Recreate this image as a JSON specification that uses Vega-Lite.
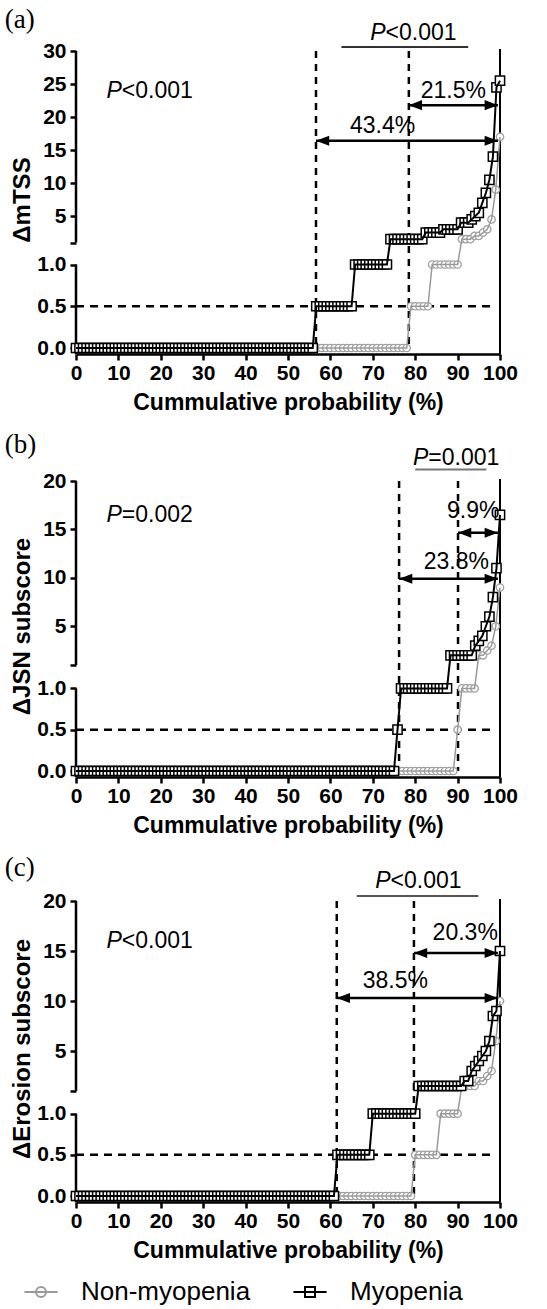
{
"$schema":"https://vega.github.io/schema/vega-lite/v6.json",
"padding":{"left":4,"top":6,"right":0,"bottom":0},
"spacing":16,
"config":{"view":{"stroke":null},"font":"Liberation Sans",
"axis":{"domainColor":"black","tickColor":"black","labelColor":"black","titleColor":"black","grid":false,"labelFont":"Liberation Sans","titleFont":"Liberation Sans","labelFontWeight":"bold","titleFontWeight":"bold","labelFontSize":21,"titleFontSize":24,"tickWidth":2.5,"domainWidth":2.5,"tickSize":6,"labelOverlap":false,"labelFlush":false,"tickCount":30},
"axisX":{"offset":6,"labelPadding":2,"titlePadding":8,"titleFontSize":23},
"axisY":{"labelPadding":4,"titlePadding":2,"domain":false},
"text":{"font":"Liberation Sans","color":"black","fontSize":23},
"title":{"font":"Liberation Serif","fontSize":27,"fontWeight":"normal","anchor":"start","frame":"bounds","dx":-6,"offset":-12,"color":"black"}},
"datasets":{
"one":[{}],
"groups":[{"g":"Non-myopenia"},{"g":"Myopenia"}],
"myo":[
{"x":0,"a":0,"b":0,"c":0},{"x":0.83,"a":0,"b":0,"c":0},{"x":1.67,"a":0,"b":0,"c":0},{"x":2.5,"a":0,"b":0,"c":0},{"x":3.33,"a":0,"b":0,"c":0},{"x":4.17,"a":0,"b":0,"c":0},
{"x":5,"a":0,"b":0,"c":0},{"x":5.83,"a":0,"b":0,"c":0},{"x":6.67,"a":0,"b":0,"c":0},{"x":7.5,"a":0,"b":0,"c":0},{"x":8.33,"a":0,"b":0,"c":0},{"x":9.17,"a":0,"b":0,"c":0},
{"x":10,"a":0,"b":0,"c":0},{"x":10.83,"a":0,"b":0,"c":0},{"x":11.67,"a":0,"b":0,"c":0},{"x":12.5,"a":0,"b":0,"c":0},{"x":13.33,"a":0,"b":0,"c":0},{"x":14.17,"a":0,"b":0,"c":0},
{"x":15,"a":0,"b":0,"c":0},{"x":15.83,"a":0,"b":0,"c":0},{"x":16.67,"a":0,"b":0,"c":0},{"x":17.5,"a":0,"b":0,"c":0},{"x":18.33,"a":0,"b":0,"c":0},{"x":19.17,"a":0,"b":0,"c":0},
{"x":20,"a":0,"b":0,"c":0},{"x":20.83,"a":0,"b":0,"c":0},{"x":21.67,"a":0,"b":0,"c":0},{"x":22.5,"a":0,"b":0,"c":0},{"x":23.33,"a":0,"b":0,"c":0},{"x":24.17,"a":0,"b":0,"c":0},
{"x":25,"a":0,"b":0,"c":0},{"x":25.83,"a":0,"b":0,"c":0},{"x":26.67,"a":0,"b":0,"c":0},{"x":27.5,"a":0,"b":0,"c":0},{"x":28.33,"a":0,"b":0,"c":0},{"x":29.17,"a":0,"b":0,"c":0},
{"x":30,"a":0,"b":0,"c":0},{"x":30.83,"a":0,"b":0,"c":0},{"x":31.67,"a":0,"b":0,"c":0},{"x":32.5,"a":0,"b":0,"c":0},{"x":33.33,"a":0,"b":0,"c":0},{"x":34.17,"a":0,"b":0,"c":0},
{"x":35,"a":0,"b":0,"c":0},{"x":35.83,"a":0,"b":0,"c":0},{"x":36.67,"a":0,"b":0,"c":0},{"x":37.5,"a":0,"b":0,"c":0},{"x":38.33,"a":0,"b":0,"c":0},{"x":39.17,"a":0,"b":0,"c":0},
{"x":40,"a":0,"b":0,"c":0},{"x":40.83,"a":0,"b":0,"c":0},{"x":41.67,"a":0,"b":0,"c":0},{"x":42.5,"a":0,"b":0,"c":0},{"x":43.33,"a":0,"b":0,"c":0},{"x":44.17,"a":0,"b":0,"c":0},
{"x":45,"a":0,"b":0,"c":0},{"x":45.83,"a":0,"b":0,"c":0},{"x":46.67,"a":0,"b":0,"c":0},{"x":47.5,"a":0,"b":0,"c":0},{"x":48.33,"a":0,"b":0,"c":0},{"x":49.17,"a":0,"b":0,"c":0},
{"x":50,"a":0,"b":0,"c":0},{"x":50.83,"a":0,"b":0,"c":0},{"x":51.67,"a":0,"b":0,"c":0},{"x":52.5,"a":0,"b":0,"c":0},{"x":53.33,"a":0,"b":0,"c":0},{"x":54.17,"a":0,"b":0,"c":0},
{"x":55,"a":0,"b":0,"c":0},{"x":55.83,"a":0,"b":0,"c":0},
{"x":56.67,"a":0.5,"b":0,"c":0},{"x":57.5,"a":0.5,"b":0,"c":0},{"x":58.33,"a":0.5,"b":0,"c":0},{"x":59.17,"a":0.5,"b":0,"c":0},{"x":60,"a":0.5,"b":0,"c":0},{"x":60.83,"a":0.5,"b":0,"c":0},
{"x":61.67,"a":0.5,"b":0,"c":0.5},{"x":62.5,"a":0.5,"b":0,"c":0.5},{"x":63.33,"a":0.5,"b":0,"c":0.5},{"x":64.17,"a":0.5,"b":0,"c":0.5},{"x":65,"a":0.5,"b":0,"c":0.5},
{"x":65.83,"a":1,"b":0,"c":0.5},{"x":66.67,"a":1,"b":0,"c":0.5},{"x":67.5,"a":1,"b":0,"c":0.5},{"x":68.33,"a":1,"b":0,"c":0.5},{"x":69.17,"a":1,"b":0,"c":0.5},
{"x":70,"a":1,"b":0,"c":1},{"x":70.83,"a":1,"b":0,"c":1},{"x":71.67,"a":1,"b":0,"c":1},{"x":72.5,"a":1,"b":0,"c":1},{"x":73.33,"a":1,"b":0,"c":1},
{"x":74.17,"a":1.5,"b":0,"c":1},{"x":75,"a":1.5,"b":0,"c":1},
{"x":75.83,"a":1.5,"b":0.5,"c":1},
{"x":76.67,"a":1.5,"b":1,"c":1},{"x":77.5,"a":1.5,"b":1,"c":1},{"x":78.33,"a":1.5,"b":1,"c":1},{"x":79.17,"a":1.5,"b":1,"c":1},{"x":80,"a":1.5,"b":1,"c":1},
{"x":80.83,"a":1.5,"b":1,"c":1.5},{"x":81.67,"a":1.5,"b":1,"c":1.5},
{"x":82.5,"a":2.5,"b":1,"c":1.5},{"x":83.33,"a":2.5,"b":1,"c":1.5},{"x":84.17,"a":2.5,"b":1,"c":1.5},{"x":85,"a":2.5,"b":1,"c":1.5},{"x":85.83,"a":2.5,"b":1,"c":1.5},
{"x":86.67,"a":3,"b":1,"c":1.5},{"x":87.5,"a":3,"b":1,"c":1.5},
{"x":88.33,"a":3,"b":2,"c":1.5},{"x":89.17,"a":3,"b":2,"c":1.5},{"x":90,"a":3,"b":2,"c":1.5},
{"x":90.83,"a":4,"b":2,"c":1.5},
{"x":91.67,"a":4,"b":2,"c":2},{"x":92.5,"a":4,"b":2,"c":2},
{"x":93.33,"a":4.5,"b":2,"c":3},
{"x":94.17,"a":5,"b":3,"c":3.5},
{"x":95,"a":5.5,"b":3.5,"c":4},
{"x":95.83,"a":7,"b":4,"c":4.5},
{"x":96.67,"a":8.5,"b":5,"c":5},
{"x":97.5,"a":10.5,"b":6,"c":6},
{"x":98.33,"a":14,"b":8,"c":8.5},
{"x":99.17,"a":24.5,"b":11,"c":9},
{"x":100,"a":25.5,"b":16.5,"c":15}
],
"non":[
{"x":0,"a":0,"b":0,"c":0},{"x":1,"a":0,"b":0,"c":0},{"x":2,"a":0,"b":0,"c":0},{"x":3,"a":0,"b":0,"c":0},{"x":4,"a":0,"b":0,"c":0},{"x":5,"a":0,"b":0,"c":0},{"x":6,"a":0,"b":0,"c":0},{"x":7,"a":0,"b":0,"c":0},{"x":8,"a":0,"b":0,"c":0},{"x":9,"a":0,"b":0,"c":0},
{"x":10,"a":0,"b":0,"c":0},{"x":11,"a":0,"b":0,"c":0},{"x":12,"a":0,"b":0,"c":0},{"x":13,"a":0,"b":0,"c":0},{"x":14,"a":0,"b":0,"c":0},{"x":15,"a":0,"b":0,"c":0},{"x":16,"a":0,"b":0,"c":0},{"x":17,"a":0,"b":0,"c":0},{"x":18,"a":0,"b":0,"c":0},{"x":19,"a":0,"b":0,"c":0},
{"x":20,"a":0,"b":0,"c":0},{"x":21,"a":0,"b":0,"c":0},{"x":22,"a":0,"b":0,"c":0},{"x":23,"a":0,"b":0,"c":0},{"x":24,"a":0,"b":0,"c":0},{"x":25,"a":0,"b":0,"c":0},{"x":26,"a":0,"b":0,"c":0},{"x":27,"a":0,"b":0,"c":0},{"x":28,"a":0,"b":0,"c":0},{"x":29,"a":0,"b":0,"c":0},
{"x":30,"a":0,"b":0,"c":0},{"x":31,"a":0,"b":0,"c":0},{"x":32,"a":0,"b":0,"c":0},{"x":33,"a":0,"b":0,"c":0},{"x":34,"a":0,"b":0,"c":0},{"x":35,"a":0,"b":0,"c":0},{"x":36,"a":0,"b":0,"c":0},{"x":37,"a":0,"b":0,"c":0},{"x":38,"a":0,"b":0,"c":0},{"x":39,"a":0,"b":0,"c":0},
{"x":40,"a":0,"b":0,"c":0},{"x":41,"a":0,"b":0,"c":0},{"x":42,"a":0,"b":0,"c":0},{"x":43,"a":0,"b":0,"c":0},{"x":44,"a":0,"b":0,"c":0},{"x":45,"a":0,"b":0,"c":0},{"x":46,"a":0,"b":0,"c":0},{"x":47,"a":0,"b":0,"c":0},{"x":48,"a":0,"b":0,"c":0},{"x":49,"a":0,"b":0,"c":0},
{"x":50,"a":0,"b":0,"c":0},{"x":51,"a":0,"b":0,"c":0},{"x":52,"a":0,"b":0,"c":0},{"x":53,"a":0,"b":0,"c":0},{"x":54,"a":0,"b":0,"c":0},{"x":55,"a":0,"b":0,"c":0},{"x":56,"a":0,"b":0,"c":0},{"x":57,"a":0,"b":0,"c":0},{"x":58,"a":0,"b":0,"c":0},{"x":59,"a":0,"b":0,"c":0},
{"x":60,"a":0,"b":0,"c":0},{"x":61,"a":0,"b":0,"c":0},{"x":62,"a":0,"b":0,"c":0},{"x":63,"a":0,"b":0,"c":0},{"x":64,"a":0,"b":0,"c":0},{"x":65,"a":0,"b":0,"c":0},{"x":66,"a":0,"b":0,"c":0},{"x":67,"a":0,"b":0,"c":0},{"x":68,"a":0,"b":0,"c":0},{"x":69,"a":0,"b":0,"c":0},
{"x":70,"a":0,"b":0,"c":0},{"x":71,"a":0,"b":0,"c":0},{"x":72,"a":0,"b":0,"c":0},{"x":73,"a":0,"b":0,"c":0},{"x":74,"a":0,"b":0,"c":0},{"x":75,"a":0,"b":0,"c":0},{"x":76,"a":0,"b":0,"c":0},{"x":77,"a":0,"b":0,"c":0},{"x":78,"a":0,"b":0,"c":0},
{"x":79,"a":0.5,"b":0,"c":0},
{"x":80,"a":0.5,"b":0,"c":0.5},{"x":81,"a":0.5,"b":0,"c":0.5},{"x":82,"a":0.5,"b":0,"c":0.5},{"x":83,"a":0.5,"b":0,"c":0.5},
{"x":84,"a":1,"b":0,"c":0.5},{"x":85,"a":1,"b":0,"c":0.5},
{"x":86,"a":1,"b":0,"c":1},{"x":87,"a":1,"b":0,"c":1},{"x":88,"a":1,"b":0,"c":1},{"x":89,"a":1,"b":0,"c":1},
{"x":90,"a":1,"b":0.5,"c":1},
{"x":91,"a":1.5,"b":1,"c":1.5},{"x":92,"a":1.5,"b":1,"c":1.5},{"x":93,"a":1.5,"b":1,"c":1.5},
{"x":94,"a":2,"b":1,"c":1.5},
{"x":95,"a":2,"b":2,"c":2},
{"x":96,"a":2.5,"b":2,"c":2},
{"x":97,"a":3,"b":2.5,"c":2.5},
{"x":98,"a":4.5,"b":3,"c":3},
{"x":99,"a":9,"b":5,"c":6},
{"x":100,"a":17,"b":9,"c":10}
]},
"vconcat":[
{"title":{"text":"(a)"},"width":424,"height":297,"data":{"name":"one"},
"layer":[
{"mark":{"type":"rule","strokeWidth":2.5,"color":"black"},"encoding":{"x":{"datum":0,"type":"quantitative"},"y":{"datum":-0.075,"type":"quantitative"},"y2":{"datum":1}}},
{"mark":{"type":"rule","strokeWidth":2.5,"color":"black"},"encoding":{"x":{"datum":0,"type":"quantitative"},"y":{"datum":1.0001,"type":"quantitative"},"y2":{"datum":30}}},
{"mark":{"type":"rule","strokeWidth":2.5,"color":"black","strokeDash":[7,6]},"encoding":{"x":{"datum":56.6,"type":"quantitative"}}},
{"mark":{"type":"rule","strokeWidth":2.5,"color":"black","strokeDash":[7,6]},"encoding":{"x":{"datum":78.5,"type":"quantitative"}}},
{"mark":{"type":"rule","strokeWidth":2.5,"color":"black","strokeDash":[8,6]},"encoding":{"x":{"datum":0,"type":"quantitative"},"x2":{"datum":99},"y":{"datum":0.5,"type":"quantitative"}}},
{"mark":{"type":"rule","strokeWidth":2,"color":"black"},"encoding":{"x":{"datum":100,"type":"quantitative"},"y":{"datum":-0.075,"type":"quantitative"},"y2":{"datum":30.3}}},
{"data":{"name":"non"},"mark":{"type":"point","shape":"circle","filled":true,"fill":"white","stroke":"#a0a0a0","strokeWidth":1.3,"size":55,"opacity":1},
"encoding":{"x":{"field":"x","type":"quantitative","scale":{"domain":[0,100],"nice":false,"zero":false},"axis":{"title":"Cummulative probability (%)","values":[0,10,20,30,40,50,60,70,80,90,100],"labelOverlap":false,"tickCount":30}},
"y":{"field":"a","type":"quantitative","scale":{"domain":[0,1,1.0001,30],"range":[297,213.5,191.5,0],"nice":false,"zero":false},"axis":{"title":"ΔmTSS","values":[0,0.5,1,1.0001,5,10,15,20,25,30],"tickCount":30,"labelOverlap":false,"labelBound":false,"labelExpr":"datum.value == 1.0001 ? '' : (datum.value <= 1 ? format(datum.value, '.1f') : format(datum.value, 'd'))"}}}},
{"data":{"name":"non"},"mark":{"type":"line","color":"#9a9a9a","strokeWidth":1.5},"encoding":{"x":{"field":"x","type":"quantitative"},"y":{"field":"a","type":"quantitative"}}},
{"data":{"name":"myo"},"mark":{"type":"point","shape":"square","filled":true,"fill":"white","stroke":"black","strokeWidth":1.5,"size":85,"opacity":1},"encoding":{"x":{"field":"x","type":"quantitative"},"y":{"field":"a","type":"quantitative"}}},
{"data":{"name":"myo"},"mark":{"type":"line","color":"black","strokeWidth":2},"encoding":{"x":{"field":"x","type":"quantitative"},"y":{"field":"a","type":"quantitative"}}},
{"mark":{"type":"rule","strokeWidth":2.5,"color":"black"},"encoding":{"x":{"datum":56.6,"type":"quantitative"},"x2":{"datum":99.5},"y":{"datum":16.4,"type":"quantitative"}}},
{"mark":{"type":"point","shape":"M0,0L1,-0.38L1,0.38Z","filled":true,"color":"black","size":700,"opacity":1,"strokeWidth":0},"encoding":{"x":{"datum":56.6,"type":"quantitative"},"y":{"datum":16.4,"type":"quantitative"}}},
{"mark":{"type":"point","shape":"M0,0L-1,-0.38L-1,0.38Z","filled":true,"color":"black","size":700,"opacity":1,"strokeWidth":0},"encoding":{"x":{"datum":99.5,"type":"quantitative"},"y":{"datum":16.4,"type":"quantitative"}}},
{"mark":{"type":"rule","strokeWidth":2.5,"color":"black"},"encoding":{"x":{"datum":78.5,"type":"quantitative"},"x2":{"datum":99.5},"y":{"datum":21.8,"type":"quantitative"}}},
{"mark":{"type":"point","shape":"M0,0L1,-0.38L1,0.38Z","filled":true,"color":"black","size":700,"opacity":1,"strokeWidth":0},"encoding":{"x":{"datum":78.5,"type":"quantitative"},"y":{"datum":21.8,"type":"quantitative"}}},
{"mark":{"type":"point","shape":"M0,0L-1,-0.38L-1,0.38Z","filled":true,"color":"black","size":700,"opacity":1,"strokeWidth":0},"encoding":{"x":{"datum":99.5,"type":"quantitative"},"y":{"datum":21.8,"type":"quantitative"}}},
{"mark":{"type":"text","align":"center","baseline":"middle"},"encoding":{"x":{"datum":72.3,"type":"quantitative"},"y":{"datum":18.65,"type":"quantitative"},"text":{"value":"43.4%"}}},
{"mark":{"type":"text","align":"center","baseline":"middle"},"encoding":{"x":{"datum":89,"type":"quantitative"},"y":{"datum":23.9,"type":"quantitative"},"text":{"value":"21.5%"}}},
{"mark":{"type":"text","align":"right","baseline":"middle","fontStyle":"italic"},"encoding":{"x":{"datum":73,"type":"quantitative"},"y":{"datum":32.7,"type":"quantitative"},"text":{"value":"P"}}},
{"mark":{"type":"text","align":"left","baseline":"middle"},"encoding":{"x":{"datum":73,"type":"quantitative"},"y":{"datum":32.7,"type":"quantitative"},"text":{"value":"<0.001"}}},
{"mark":{"type":"rule","strokeWidth":2,"color":"#333333"},"encoding":{"x":{"datum":62.6,"type":"quantitative"},"x2":{"datum":92.5},"y":{"datum":30.6,"type":"quantitative"}}},
{"mark":{"type":"text","align":"right","baseline":"middle","fontStyle":"italic"},"encoding":{"x":{"datum":10.8,"type":"quantitative"},"y":{"datum":23.9,"type":"quantitative"},"text":{"value":"P"}}},
{"mark":{"type":"text","align":"left","baseline":"middle"},"encoding":{"x":{"datum":10.8,"type":"quantitative"},"y":{"datum":23.9,"type":"quantitative"},"text":{"value":"<0.001"}}}
]},
{"title":{"text":"(b)"},"width":424,"height":290,"data":{"name":"one"},
"layer":[
{"mark":{"type":"rule","strokeWidth":2.5,"color":"black"},"encoding":{"x":{"datum":0,"type":"quantitative"},"y":{"datum":-0.075,"type":"quantitative"},"y2":{"datum":1}}},
{"mark":{"type":"rule","strokeWidth":2.5,"color":"black"},"encoding":{"x":{"datum":0,"type":"quantitative"},"y":{"datum":1.0001,"type":"quantitative"},"y2":{"datum":20}}},
{"mark":{"type":"rule","strokeWidth":2.5,"color":"black","strokeDash":[7,6]},"encoding":{"x":{"datum":76.2,"type":"quantitative"}}},
{"mark":{"type":"rule","strokeWidth":2.5,"color":"black","strokeDash":[7,6]},"encoding":{"x":{"datum":90.1,"type":"quantitative"}}},
{"mark":{"type":"rule","strokeWidth":2.5,"color":"black","strokeDash":[8,6]},"encoding":{"x":{"datum":0,"type":"quantitative"},"x2":{"datum":99},"y":{"datum":0.5,"type":"quantitative"}}},
{"mark":{"type":"rule","strokeWidth":2,"color":"black"},"encoding":{"x":{"datum":100,"type":"quantitative"},"y":{"datum":-0.075,"type":"quantitative"},"y2":{"datum":20.2}}},
{"data":{"name":"non"},"mark":{"type":"point","shape":"circle","filled":true,"fill":"white","stroke":"#a0a0a0","strokeWidth":1.3,"size":55,"opacity":1},
"encoding":{"x":{"field":"x","type":"quantitative","scale":{"domain":[0,100],"nice":false,"zero":false},"axis":{"title":"Cummulative probability (%)","values":[0,10,20,30,40,50,60,70,80,90,100],"labelOverlap":false,"tickCount":30}},
"y":{"field":"b","type":"quantitative","scale":{"domain":[0,1,1.0001,20],"range":[290,207.4,184,0],"nice":false,"zero":false},"axis":{"title":"ΔJSN subscore","values":[0,0.5,1,1.0001,5,10,15,20],"tickCount":30,"labelOverlap":false,"labelBound":false,"labelExpr":"datum.value == 1.0001 ? '' : (datum.value <= 1 ? format(datum.value, '.1f') : format(datum.value, 'd'))"}}}},
{"data":{"name":"non"},"mark":{"type":"line","color":"#9a9a9a","strokeWidth":1.5},"encoding":{"x":{"field":"x","type":"quantitative"},"y":{"field":"b","type":"quantitative"}}},
{"data":{"name":"myo"},"mark":{"type":"point","shape":"square","filled":true,"fill":"white","stroke":"black","strokeWidth":1.5,"size":85,"opacity":1},"encoding":{"x":{"field":"x","type":"quantitative"},"y":{"field":"b","type":"quantitative"}}},
{"data":{"name":"myo"},"mark":{"type":"line","color":"black","strokeWidth":2},"encoding":{"x":{"field":"x","type":"quantitative"},"y":{"field":"b","type":"quantitative"}}},
{"mark":{"type":"rule","strokeWidth":2.5,"color":"black"},"encoding":{"x":{"datum":76.2,"type":"quantitative"},"x2":{"datum":99.5},"y":{"datum":9.9,"type":"quantitative"}}},
{"mark":{"type":"point","shape":"M0,0L1,-0.38L1,0.38Z","filled":true,"color":"black","size":700,"opacity":1,"strokeWidth":0},"encoding":{"x":{"datum":76.2,"type":"quantitative"},"y":{"datum":9.9,"type":"quantitative"}}},
{"mark":{"type":"point","shape":"M0,0L-1,-0.38L-1,0.38Z","filled":true,"color":"black","size":700,"opacity":1,"strokeWidth":0},"encoding":{"x":{"datum":99.5,"type":"quantitative"},"y":{"datum":9.9,"type":"quantitative"}}},
{"mark":{"type":"rule","strokeWidth":2.5,"color":"black"},"encoding":{"x":{"datum":90.1,"type":"quantitative"},"x2":{"datum":99.5},"y":{"datum":14.66,"type":"quantitative"}}},
{"mark":{"type":"point","shape":"M0,0L1,-0.38L1,0.38Z","filled":true,"color":"black","size":700,"opacity":1,"strokeWidth":0},"encoding":{"x":{"datum":90.1,"type":"quantitative"},"y":{"datum":14.66,"type":"quantitative"}}},
{"mark":{"type":"point","shape":"M0,0L-1,-0.38L-1,0.38Z","filled":true,"color":"black","size":700,"opacity":1,"strokeWidth":0},"encoding":{"x":{"datum":99.5,"type":"quantitative"},"y":{"datum":14.66,"type":"quantitative"}}},
{"mark":{"type":"text","align":"center","baseline":"middle"},"encoding":{"x":{"datum":89.7,"type":"quantitative"},"y":{"datum":11.6,"type":"quantitative"},"text":{"value":"23.8%"}}},
{"mark":{"type":"text","align":"center","baseline":"middle"},"encoding":{"x":{"datum":93.7,"type":"quantitative"},"y":{"datum":16.9,"type":"quantitative"},"text":{"value":"9.9%"}}},
{"mark":{"type":"text","align":"right","baseline":"middle","fontStyle":"italic"},"encoding":{"x":{"datum":83.1,"type":"quantitative"},"y":{"datum":22.4,"type":"quantitative"},"text":{"value":"P"}}},
{"mark":{"type":"text","align":"left","baseline":"middle"},"encoding":{"x":{"datum":83.1,"type":"quantitative"},"y":{"datum":22.4,"type":"quantitative"},"text":{"value":"=0.001"}}},
{"mark":{"type":"rule","strokeWidth":2,"color":"#777777"},"encoding":{"x":{"datum":80,"type":"quantitative"},"x2":{"datum":96.8},"y":{"datum":21.2,"type":"quantitative"}}},
{"mark":{"type":"text","align":"right","baseline":"middle","fontStyle":"italic"},"encoding":{"x":{"datum":10.8,"type":"quantitative"},"y":{"datum":16.5,"type":"quantitative"},"text":{"value":"P"}}},
{"mark":{"type":"text","align":"left","baseline":"middle"},"encoding":{"x":{"datum":10.8,"type":"quantitative"},"y":{"datum":16.5,"type":"quantitative"},"text":{"value":"=0.002"}}}
]},
{"title":{"text":"(c)"},"width":424,"height":295,"data":{"name":"one"},
"layer":[
{"mark":{"type":"rule","strokeWidth":2.5,"color":"black"},"encoding":{"x":{"datum":0,"type":"quantitative"},"y":{"datum":-0.075,"type":"quantitative"},"y2":{"datum":1}}},
{"mark":{"type":"rule","strokeWidth":2.5,"color":"black"},"encoding":{"x":{"datum":0,"type":"quantitative"},"y":{"datum":1.0001,"type":"quantitative"},"y2":{"datum":20}}},
{"mark":{"type":"rule","strokeWidth":2.5,"color":"black","strokeDash":[7,6]},"encoding":{"x":{"datum":61.5,"type":"quantitative"}}},
{"mark":{"type":"rule","strokeWidth":2.5,"color":"black","strokeDash":[7,6]},"encoding":{"x":{"datum":79.7,"type":"quantitative"}}},
{"mark":{"type":"rule","strokeWidth":2.5,"color":"black","strokeDash":[8,6]},"encoding":{"x":{"datum":0,"type":"quantitative"},"x2":{"datum":99},"y":{"datum":0.5,"type":"quantitative"}}},
{"mark":{"type":"rule","strokeWidth":2,"color":"black"},"encoding":{"x":{"datum":100,"type":"quantitative"},"y":{"datum":-0.075,"type":"quantitative"},"y2":{"datum":20.2}}},
{"data":{"name":"non"},"mark":{"type":"point","shape":"circle","filled":true,"fill":"white","stroke":"#a0a0a0","strokeWidth":1.3,"size":55,"opacity":1},
"encoding":{"x":{"field":"x","type":"quantitative","scale":{"domain":[0,100],"nice":false,"zero":false},"axis":{"title":"Cummulative probability (%)","values":[0,10,20,30,40,50,60,70,80,90,100],"labelOverlap":false,"tickCount":30}},
"y":{"field":"c","type":"quantitative","scale":{"domain":[0,1,1.0001,20],"range":[295,212.7,190,0],"nice":false,"zero":false},"axis":{"title":"ΔErosion subscore","values":[0,0.5,1,1.0001,5,10,15,20],"tickCount":30,"labelOverlap":false,"labelBound":false,"labelExpr":"datum.value == 1.0001 ? '' : (datum.value <= 1 ? format(datum.value, '.1f') : format(datum.value, 'd'))"}}}},
{"data":{"name":"non"},"mark":{"type":"line","color":"#9a9a9a","strokeWidth":1.5},"encoding":{"x":{"field":"x","type":"quantitative"},"y":{"field":"c","type":"quantitative"}}},
{"data":{"name":"myo"},"mark":{"type":"point","shape":"square","filled":true,"fill":"white","stroke":"black","strokeWidth":1.5,"size":85,"opacity":1},"encoding":{"x":{"field":"x","type":"quantitative"},"y":{"field":"c","type":"quantitative"}}},
{"data":{"name":"myo"},"mark":{"type":"line","color":"black","strokeWidth":2},"encoding":{"x":{"field":"x","type":"quantitative"},"y":{"field":"c","type":"quantitative"}}},
{"mark":{"type":"rule","strokeWidth":2.5,"color":"black"},"encoding":{"x":{"datum":61.5,"type":"quantitative"},"x2":{"datum":99.5},"y":{"datum":10.3,"type":"quantitative"}}},
{"mark":{"type":"point","shape":"M0,0L1,-0.38L1,0.38Z","filled":true,"color":"black","size":700,"opacity":1,"strokeWidth":0},"encoding":{"x":{"datum":61.5,"type":"quantitative"},"y":{"datum":10.3,"type":"quantitative"}}},
{"mark":{"type":"point","shape":"M0,0L-1,-0.38L-1,0.38Z","filled":true,"color":"black","size":700,"opacity":1,"strokeWidth":0},"encoding":{"x":{"datum":99.5,"type":"quantitative"},"y":{"datum":10.3,"type":"quantitative"}}},
{"mark":{"type":"rule","strokeWidth":2.5,"color":"black"},"encoding":{"x":{"datum":79.7,"type":"quantitative"},"x2":{"datum":99.5},"y":{"datum":14.8,"type":"quantitative"}}},
{"mark":{"type":"point","shape":"M0,0L1,-0.38L1,0.38Z","filled":true,"color":"black","size":700,"opacity":1,"strokeWidth":0},"encoding":{"x":{"datum":79.7,"type":"quantitative"},"y":{"datum":14.8,"type":"quantitative"}}},
{"mark":{"type":"point","shape":"M0,0L-1,-0.38L-1,0.38Z","filled":true,"color":"black","size":700,"opacity":1,"strokeWidth":0},"encoding":{"x":{"datum":99.5,"type":"quantitative"},"y":{"datum":14.8,"type":"quantitative"}}},
{"mark":{"type":"text","align":"center","baseline":"middle"},"encoding":{"x":{"datum":75.3,"type":"quantitative"},"y":{"datum":12.0,"type":"quantitative"},"text":{"value":"38.5%"}}},
{"mark":{"type":"text","align":"center","baseline":"middle"},"encoding":{"x":{"datum":91.8,"type":"quantitative"},"y":{"datum":16.8,"type":"quantitative"},"text":{"value":"20.3%"}}},
{"mark":{"type":"text","align":"right","baseline":"middle","fontStyle":"italic"},"encoding":{"x":{"datum":74.2,"type":"quantitative"},"y":{"datum":22.0,"type":"quantitative"},"text":{"value":"P"}}},
{"mark":{"type":"text","align":"left","baseline":"middle"},"encoding":{"x":{"datum":74.2,"type":"quantitative"},"y":{"datum":22.0,"type":"quantitative"},"text":{"value":"<0.001"}}},
{"mark":{"type":"rule","strokeWidth":2,"color":"#555555"},"encoding":{"x":{"datum":66.2,"type":"quantitative"},"x2":{"datum":94.9},"y":{"datum":20.5,"type":"quantitative"}}},
{"mark":{"type":"text","align":"right","baseline":"middle","fontStyle":"italic"},"encoding":{"x":{"datum":10.8,"type":"quantitative"},"y":{"datum":16.0,"type":"quantitative"},"text":{"value":"P"}}},
{"mark":{"type":"text","align":"left","baseline":"middle"},"encoding":{"x":{"datum":10.8,"type":"quantitative"},"y":{"datum":16.0,"type":"quantitative"},"text":{"value":"<0.001"}}},
{"data":{"name":"groups"},"mark":{"type":"point","filled":false,"opacity":0},
"encoding":{"shape":{"field":"g","type":"nominal","scale":{"domain":["Non-myopenia","Myopenia"],"range":["M-1,0H1M0.3,0A0.3,0.3 0 1,1 -0.3,0A0.3,0.3 0 1,1 0.3,0","M-1,0H1M-0.3,-0.3H0.3V0.3H-0.3Z"]},
"legend":{"orient":"none","legendX":-53,"legendY":1223,"direction":"horizontal","title":null,"labelFontSize":26,"labelFont":"Liberation Sans","labelColor":"black","labelLimit":400,"symbolSize":1100,"symbolStrokeWidth":2,"symbolOpacity":1,"columnPadding":38,"labelOffset":22,"padding":0}},
"color":{"field":"g","type":"nominal","scale":{"domain":["Non-myopenia","Myopenia"],"range":["#9a9a9a","#000000"]}}}}
]}
]
}
